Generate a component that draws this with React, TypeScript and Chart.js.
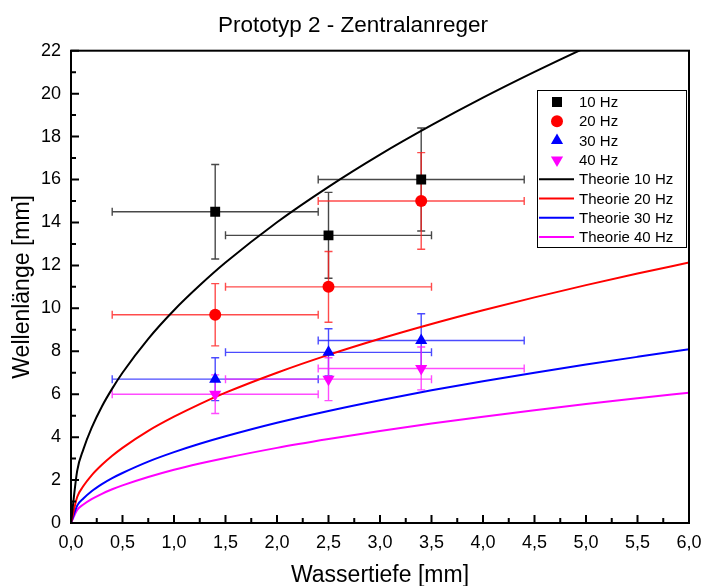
import React, { useEffect, useRef } from 'react';
import { Chart, registerables } from 'chart.js';

Chart.register(...registerables);

const FONT = "'Liberation Sans', Arial, Helvetica, sans-serif";

// Measured points: water depth [mm] with its uncertainty
const depths = [1.4, 2.5, 3.4];
const depthErr = [1.0, 1.0, 1.0];

// Measured wavelengths [mm] and their uncertainties
const lambda10 = [14.5, 13.4, 16.0];
const err10 = [2.2, 2.0, 2.4];
const lambda20 = [9.7, 11.0, 15.0];
const err20 = [1.45, 1.65, 2.25];
const lambda30 = [6.7, 7.95, 8.5];
const err30 = [1.0, 1.1, 1.25];
const lambda40 = [6.0, 6.7, 7.2];
const err40 = [0.9, 1.0, 1.0];

// Theory curves
const theoryDepth = [0, 0.06, 0.12, 0.2, 0.3, 0.4, 0.5, 0.75, 1, 1.25, 1.5, 2, 2.5, 3, 3.5, 4, 4.5, 5, 5.5, 6];
const theory10 = [0, 2.43, 3.43, 4.43, 5.43, 6.26, 7.0, 8.58, 9.91, 11.07, 12.13, 14.01, 15.66, 17.16, 18.53, 19.81, 21.01, 22.15, 23.23, 24.26];
const theory20 = [0, 1.21, 1.72, 2.22, 2.71, 3.13, 3.5, 4.29, 4.95, 5.54, 6.07, 7.0, 7.83, 8.58, 9.27, 9.91, 10.51, 11.08, 11.62, 12.13];
const theory30 = [0, 0.81, 1.14, 1.48, 1.81, 2.09, 2.33, 2.86, 3.3, 3.69, 4.04, 4.67, 5.22, 5.72, 6.18, 6.6, 7.0, 7.38, 7.74, 8.09];
const theory40 = [0, 0.61, 0.86, 1.11, 1.36, 1.57, 1.75, 2.14, 2.48, 2.77, 3.03, 3.5, 3.91, 4.29, 4.63, 4.95, 5.25, 5.54, 5.81, 6.07];

const seriesLabels = ['10 Hz', '20 Hz', '30 Hz', '40 Hz'];
const theoryLabels = ['Theorie 10 Hz', 'Theorie 20 Hz', 'Theorie 30 Hz', 'Theorie 40 Hz'];
const colors = ['#000000', '#ff0000', '#0000ff', '#ff00ff'];
const errColors = ['rgba(40,40,40,0.85)', 'rgba(255,30,30,0.8)', 'rgba(30,30,255,0.8)', 'rgba(255,30,255,0.8)'];
const markerStyles = ['rect', 'circle', 'triangle', 'triangleDown'];

const pts = (xs: number[], ys: number[]) => xs.map((x, i) => ({ x, y: ys[i] }));

function drawMarker(ctx: CanvasRenderingContext2D, style: string, x: number, y: number, color: string) {
  ctx.save();
  ctx.fillStyle = color;
  ctx.beginPath();
  if (style === 'rect') {
    ctx.rect(x - 5, y - 5, 10, 10);
  } else if (style === 'circle') {
    ctx.arc(x, y, 6, 0, Math.PI * 2);
  } else if (style === 'triangle') {
    ctx.moveTo(x, y - 7);
    ctx.lineTo(x + 6.1, y + 3.5);
    ctx.lineTo(x - 6.1, y + 3.5);
    ctx.closePath();
  } else {
    ctx.moveTo(x, y + 7);
    ctx.lineTo(x + 6.1, y - 3.5);
    ctx.lineTo(x - 6.1, y - 3.5);
    ctx.closePath();
  }
  ctx.fill();
  ctx.restore();
}

const errorBarPlugin = {
  id: 'errorBars',
  beforeDatasetsDraw(chart: any) {
    const { ctx } = chart;
    const xs = chart.scales.x;
    const ys = chart.scales.y;
    const ca = chart.chartArea;
    ctx.save();
    ctx.beginPath();
    ctx.rect(ca.left, ca.top, ca.right - ca.left, ca.bottom - ca.top);
    ctx.clip();
    chart.data.datasets.forEach((ds: any) => {
      if (!ds.errY) return;
      ctx.strokeStyle = ds.errColor;
      ctx.lineWidth = 1.4;
      const cap = 4;
      ds.data.forEach((p: any, i: number) => {
        const px = xs.getPixelForValue(p.x);
        const py = ys.getPixelForValue(p.y);
        const xl = xs.getPixelForValue(p.x - ds.errX[i]);
        const xr = xs.getPixelForValue(p.x + ds.errX[i]);
        const yt = ys.getPixelForValue(p.y + ds.errY[i]);
        const yb = ys.getPixelForValue(p.y - ds.errY[i]);
        ctx.beginPath();
        ctx.moveTo(xl, py); ctx.lineTo(xr, py);
        ctx.moveTo(xl, py - cap); ctx.lineTo(xl, py + cap);
        ctx.moveTo(xr, py - cap); ctx.lineTo(xr, py + cap);
        ctx.moveTo(px, yt); ctx.lineTo(px, yb);
        ctx.moveTo(px - cap, yt); ctx.lineTo(px + cap, yt);
        ctx.moveTo(px - cap, yb); ctx.lineTo(px + cap, yb);
        ctx.stroke();
      });
    });
    ctx.restore();
  },
};

const frameTickPlugin = {
  id: 'frameTicks',
  afterDatasetsDraw(chart: any) {
    const { ctx } = chart;
    const ca = chart.chartArea;
    const xs = chart.scales.x;
    const ys = chart.scales.y;
    ctx.save();
    ctx.strokeStyle = '#000';
    ctx.lineWidth = 2;
    ctx.strokeRect(ca.left, ca.top, ca.right - ca.left, ca.bottom - ca.top);
    ctx.beginPath();
    for (let i = 0; i <= 24; i++) {
      const v = i * 0.25;
      const len = i % 2 === 0 ? 8 : 5;
      const px = xs.getPixelForValue(v);
      ctx.moveTo(px, ca.bottom);
      ctx.lineTo(px, ca.bottom - len);
    }
    for (let i = 0; i <= 22; i++) {
      const len = i % 2 === 0 ? 8 : 5;
      const py = ys.getPixelForValue(i);
      ctx.moveTo(ca.left, py);
      ctx.lineTo(ca.left + len, py);
    }
    ctx.stroke();
    ctx.restore();
  },
};

const legendPlugin = {
  id: 'boxLegend',
  afterDraw(chart: any) {
    const { ctx } = chart;
    const left = 537.5, top = 90.5, w = 149, h = 157;
    ctx.save();
    ctx.fillStyle = '#fff';
    ctx.fillRect(left, top, w, h);
    ctx.strokeStyle = '#000';
    ctx.lineWidth = 1;
    ctx.strokeRect(left, top, w, h);
    ctx.font = `15px ${FONT}`;
    ctx.textBaseline = 'middle';
    ctx.textAlign = 'left';
    const rowY = (i: number) => 102 + i * 19.3;
    seriesLabels.forEach((lab, i) => {
      const y = rowY(i);
      drawMarker(ctx, markerStyles[i], 557, y, colors[i]);
      ctx.fillStyle = '#000';
      ctx.fillText(lab, 579, y + 1);
    });
    theoryLabels.forEach((lab, i) => {
      const y = rowY(i + 4);
      ctx.strokeStyle = colors[i];
      ctx.lineWidth = 2;
      ctx.beginPath();
      ctx.moveTo(539, y);
      ctx.lineTo(574, y);
      ctx.stroke();
      ctx.fillStyle = '#000';
      ctx.fillText(lab, 579, y + 1);
    });
    ctx.restore();
  },
};

export default function App() {
  const canvasRef = useRef<HTMLCanvasElement | null>(null);

  useEffect(() => {
    if (!canvasRef.current) return;
    document.body.style.margin = '0';
    const measured = [
      { v: lambda10, e: err10 },
      { v: lambda20, e: err20 },
      { v: lambda30, e: err30 },
      { v: lambda40, e: err40 },
    ];
    const theories = [theory10, theory20, theory30, theory40];

    const scatterSets = measured.map((m, i) => ({
      type: 'scatter',
      label: seriesLabels[i],
      data: pts(depths, m.v),
      errX: depthErr,
      errY: m.e,
      errColor: errColors[i],
      showLine: false,
      pointStyle: markerStyles[i] === 'triangleDown' ? 'triangle' : markerStyles[i],
      rotation: markerStyles[i] === 'triangleDown' ? 180 : 0,
      pointRadius: markerStyles[i] === 'circle' ? 6 : 7,
      backgroundColor: colors[i],
      borderColor: colors[i],
      borderWidth: 0,
    }));
    const lineSets = theories.map((t, i) => ({
      type: 'scatter',
      label: theoryLabels[i],
      data: pts(theoryDepth, t),
      showLine: true,
      pointRadius: 0,
      borderColor: colors[i],
      backgroundColor: colors[i],
      borderWidth: 2,
      cubicInterpolationMode: 'monotone',
      fill: false,
    }));

    const chart = new Chart(canvasRef.current, {
      type: 'scatter',
      data: { datasets: [...scatterSets, ...lineSets] as any },
      plugins: [errorBarPlugin, frameTickPlugin, legendPlugin],
      options: {
        responsive: false,
        animation: false,
        color: '#000',
        layout: { padding: { left: 17, right: 14, top: 0, bottom: 0 } },
        plugins: {
          legend: { display: false },
          tooltip: { enabled: false },
          title: {
            display: true,
            text: 'Prototyp 2 - Zentralanreger',
            color: '#000',
            font: { family: FONT, size: 22.5, weight: 'normal', lineHeight: 1.2 },
            padding: { top: 12, bottom: 11.7 },
          },
        },
        scales: {
          x: {
            type: 'linear',
            min: 0,
            max: 6,
            border: { display: false },
            grid: { display: false, drawTicks: false },
            ticks: {
              stepSize: 0.5,
              color: '#000',
              padding: 9,
              font: { family: FONT, size: 18 },
              callback: (v: any) => Number(v).toFixed(1).replace('.', ','),
            },
            title: {
              display: true,
              text: 'Wassertiefe [mm]',
              color: '#000',
              font: { family: FONT, size: 23, lineHeight: 0.87 },
              padding: { top: 0, bottom: 0 },
            },
            afterFit: (s: any) => {
              s.height = 63;
              s.paddingLeft = 0;
              s.paddingRight = 0;
            },
          },
          y: {
            type: 'linear',
            min: 0,
            max: 22,
            border: { display: false },
            grid: { display: false, drawTicks: false },
            ticks: {
              stepSize: 2,
              color: '#000',
              padding: 10,
              font: { family: FONT, size: 18 },
            },
            title: {
              display: true,
              text: 'Wellenlänge [mm]',
              color: '#000',
              font: { family: FONT, size: 23, lineHeight: 0.52 },
              padding: { top: 0, bottom: 0 },
            },
            afterFit: (s: any) => {
              s.width = 54;
              s.paddingTop = 0;
              s.paddingBottom = 0;
            },
          },
        },
      } as any,
    });
    return () => chart.destroy();
  }, []);

  return (
    <div style={{ position: 'absolute', left: 0, top: 0, width: 703, height: 586, background: '#fff' }}>
      <canvas ref={canvasRef} width={703} height={586} style={{ display: 'block', width: 703, height: 586 }} />
    </div>
  );
}
